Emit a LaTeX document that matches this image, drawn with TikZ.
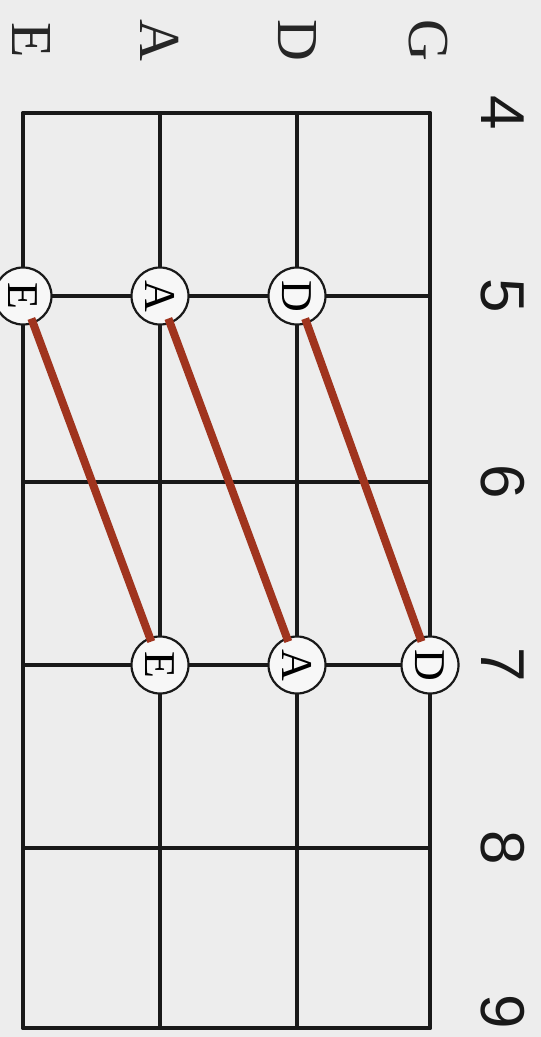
\documentclass[tikz,border=0pt]{standalone}
\usepackage{fontspec}
\setmainfont{Liberation Serif}
\newfontfamily\numfont{Liberation Sans}
\begin{document}
\begin{tikzpicture}[x=1pt,y=-1pt,
  grid/.style={line width=3.8pt,line cap=round,black!90},
  note/.style={circle,draw=black!90,line width=2.2pt,fill=gray!6,minimum size=57pt,inner sep=0pt,
    font=\fontsize{44}{44}\selectfont,rotate=-90},
  strlabel/.style={font=\fontsize{58}{58}\selectfont,rotate=-90,text=black!85},
  fretlabel/.style={font=\numfont\fontsize{62}{62}\selectfont,rotate=-90,text=black!90},
  slide/.style={line width=8pt,draw={rgb,255:red,160;green,52;blue,30},shorten <=24pt,shorten >=25pt}]
\fill[gray!14] (0,0) rectangle (541,1037);
\useasboundingbox (0,0) rectangle (541,1037);
% strings
\foreach \x in {23,160,297,430} \draw[grid] (\x,113) -- (\x,1028);
% frets
\foreach \y in {113,296,482,665,848,1028} \draw[grid] (23,\y) -- (430,\y);
% string labels
\node[strlabel] (sE) at (31,40) {E};
\node[strlabel] (sA) at (160,40) {A};
\node[strlabel] (sD) at (297,40) {D};
\node[strlabel] (sG) at (428,40) {G};
% fret labels
\node[fretlabel] (f4) at (503,113) {4};
\node[fretlabel] (f5) at (503,296) {5};
\node[fretlabel] (f6) at (503,482) {6};
\node[fretlabel] (f7) at (503,665) {7};
\node[fretlabel] (f8) at (503,848) {8};
\node[fretlabel] (f9) at (503,1012) {9};
% notes
\node[note] (e5) at (23,296) {E};
\node[note] (a5) at (160,296) {A};
\node[note] (d5) at (297,296) {D};
\node[note] (e7) at (160,665) {E};
\node[note] (a7) at (297,665) {A};
\node[note] (d7) at (430,665) {D};
% slides
\draw[slide] (e5.center) -- (e7.center);
\draw[slide] (a5.center) -- (a7.center);
\draw[slide] (d5.center) -- (d7.center);
\end{tikzpicture}
\end{document}
